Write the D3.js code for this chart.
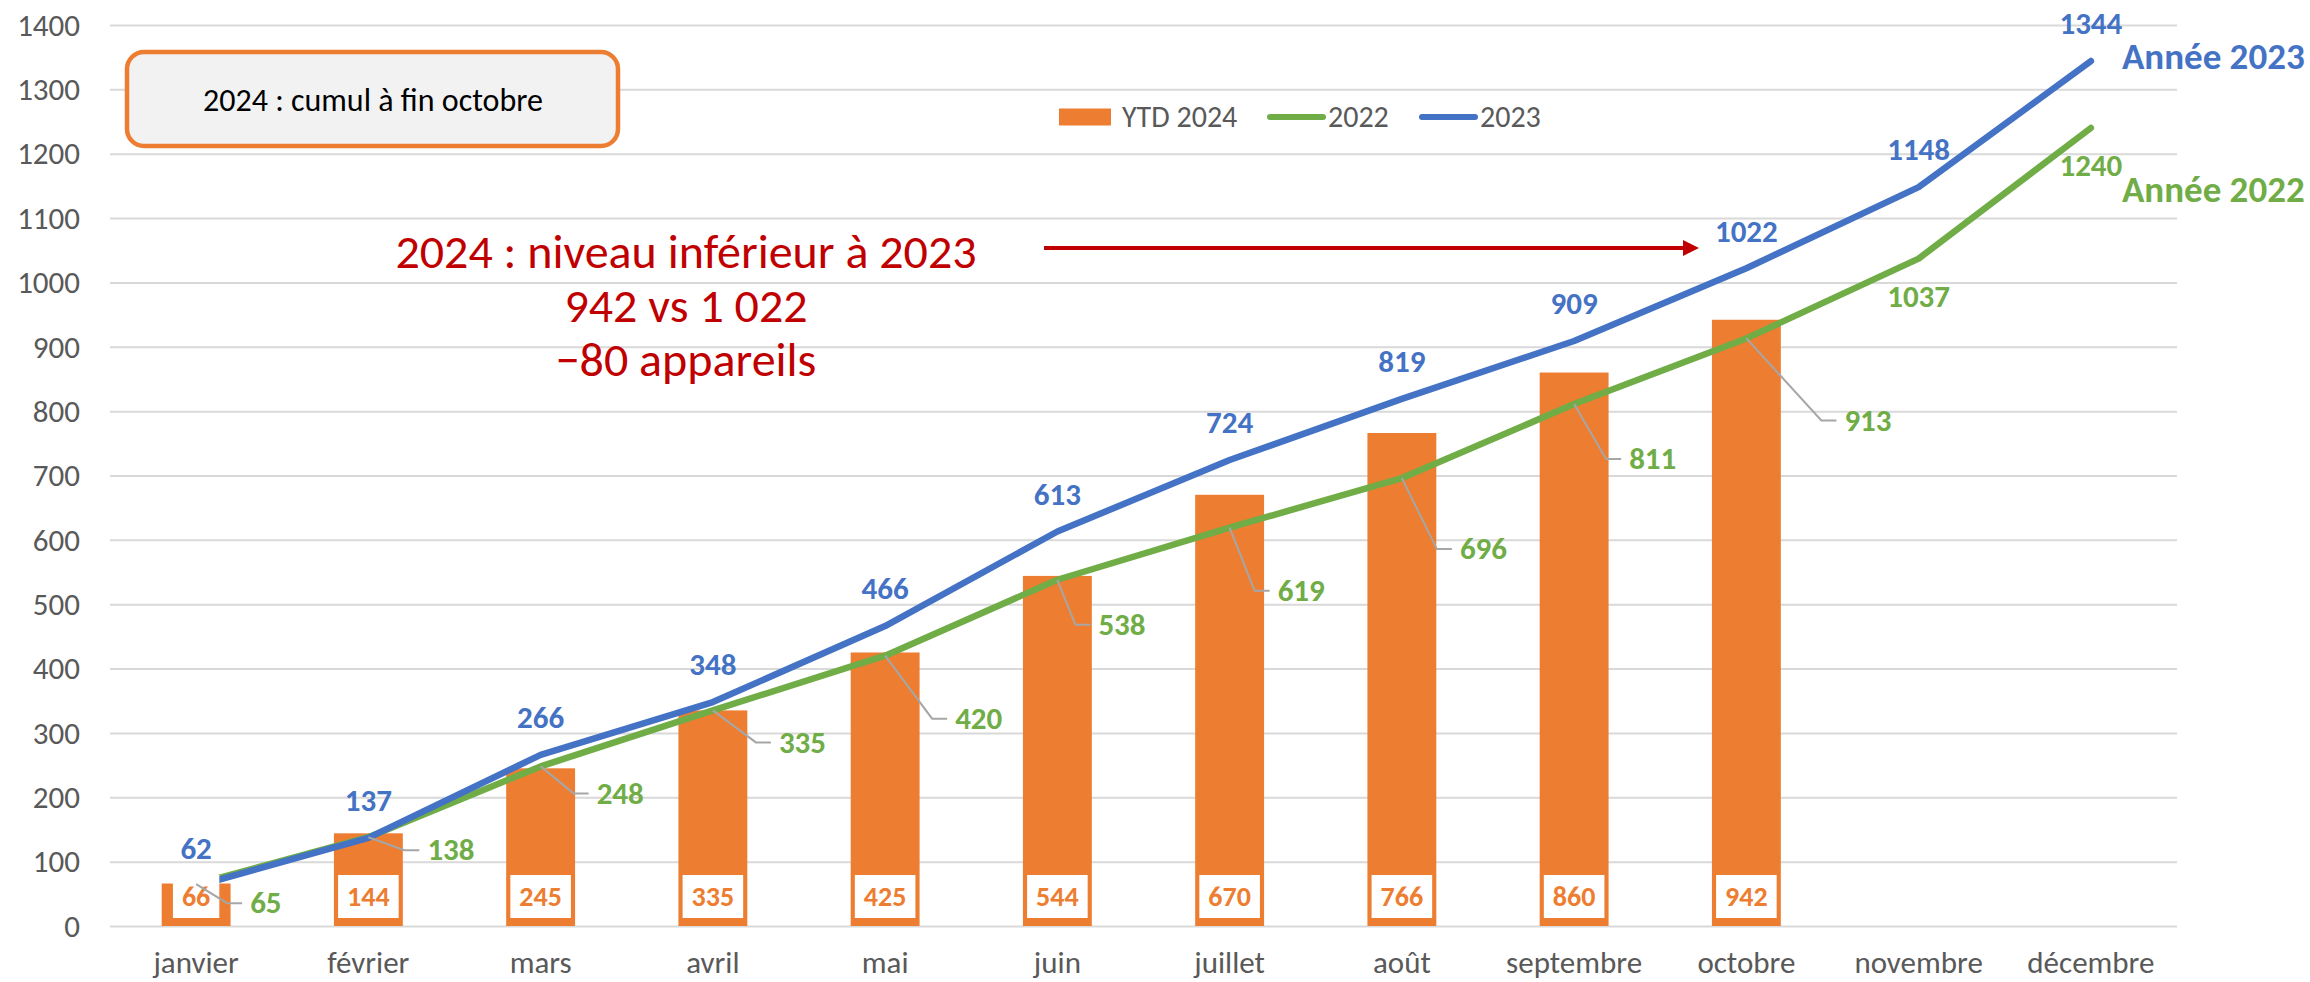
<!DOCTYPE html>
<meta charset="utf-8">
<style>
body { margin: 0; background: #fff; }
text { font-family: Carlito, Calibri, "Liberation Sans Narrow", "Open Sans", sans-serif; }
.axis path { display: none; }
.axis--y line { stroke: #d9d9d9; stroke-width: 2; }
.axis text { fill: #595959; font-size: 31px; }
</style>
<svg width="2310" height="982"></svg>
<script src="https://d3js.org/d3.v7.min.js"></script>
<script>

var months = ["janvier", "février", "mars", "avril", "mai", "juin", "juillet", "août", "septembre", "octobre", "novembre", "décembre"];
var ytd2024 = [66, 144, 245, 335, 425, 544, 670, 766, 860, 942];
var serie2022 = [65, 138, 248, 335, 420, 538, 619, 696, 811, 913, 1037, 1240];
var serie2023 = [62, 137, 266, 348, 466, 613, 724, 819, 909, 1022, 1148, 1344];
var yTicks = [0, 100, 200, 300, 400, 500, 600, 700, 800, 900, 1000, 1100, 1200, 1300, 1400];

// where excel put the 2022 labels (left edge / centre offset from the point)
var labelPos2022 = [[54, 19], [59, 13], [56, 27], [66, 32], [70, 63], [41, 45], [48, 63], [58, 71], [55, 55], [98, 82], [0, 38], [0, 38]];

var orange = "#ED7D31", green = "#70AD47", blue = "#4472C4", red = "#C00000";

var svg = d3.select("svg"),
    plotL = 110, plotR = 2177, plotT = 25, plotB = 926;

var x = d3.scaleBand()
    .domain(months)
    .range([plotL, plotR])
    .paddingInner(0.6)
    .paddingOuter(0.3);

var y = d3.scaleLinear()
    .domain([0, 1400])
    .range([plotB, plotT]);

function cx(i) { return x(months[i]) + x.bandwidth() / 2; }

// grid + y labels
svg.append("g")
    .attr("class", "axis axis--y")
    .attr("transform", "translate(" + plotL + ",0)")
    .call(d3.axisLeft(y).tickValues(yTicks).tickFormat(d3.format("d"))
        .tickSize(-(plotR - plotL)).tickPadding(30))
    .selectAll("text").attr("dy", "0.33em");

// x labels
svg.append("g")
    .attr("class", "axis axis--x")
    .attr("transform", "translate(0," + plotB + ")")
    .call(d3.axisBottom(x).tickSize(0).tickPadding(25))
    .selectAll("line").remove();

// bars
svg.append("g").selectAll("rect")
    .data(ytd2024)
    .enter().append("rect")
    .attr("x", function(d, i) { return x(months[i]); })
    .attr("y", function(d) { return y(d); })
    .attr("width", x.bandwidth())
    .attr("height", function(d) { return y(0) - y(d); })
    .attr("fill", orange);

// lines
var line = d3.line()
    .x(function(d, i) { return cx(i); })
    .y(function(d) { return y(d); });

[[serie2022, green], [serie2023, blue]].forEach(function(s) {
    svg.append("path")
        .datum(s[0])
        .attr("d", line)
        .attr("fill", "none")
        .attr("stroke", s[1])
        .attr("stroke-width", 6.5)
        .attr("stroke-linejoin", "round")
        .attr("stroke-linecap", "round");
});

// bar labels : white box at the base
var barLab = svg.append("g").selectAll("g")
    .data(ytd2024)
    .enter().append("g");

barLab.append("text")
    .attr("x", function(d, i) { return cx(i); })
    .attr("y", plotB - 29)
    .attr("dy", "0.33em")
    .attr("text-anchor", "middle")
    .attr("fill", orange)
    .style("font-size", "28px")
    .style("font-weight", "bold")
    .text(function(d) { return d; });

barLab.each(function(d, i) {
    var g = d3.select(this),
        w = g.select("text").node().getComputedTextLength() + 18;
    g.insert("rect", "text")
        .attr("x", cx(i) - w / 2)
        .attr("y", plotB - 51)
        .attr("width", w)
        .attr("height", 43)
        .attr("fill", "#fff");
});

// 2022 labels with leader lines
var lab22 = svg.append("g").selectAll("g")
    .data(serie2022)
    .enter().append("g");

lab22.each(function(d, i) {
    var g = d3.select(this),
        px = cx(i), py = y(d),
        o = labelPos2022[i],
        ly = py + o[1];
    if (o[0] > 0) {
        var lx = px + o[0];
        g.append("path")
            .attr("d", "M" + px + "," + py + "L" + (lx - 23) + "," + ly + "L" + (lx - 8) + "," + ly)
            .attr("fill", "none")
            .attr("stroke", "#A6A6A6")
            .attr("stroke-width", 2);
        g.append("text")
            .attr("x", lx)
            .attr("y", ly)
            .attr("dy", "0.33em")
            .attr("text-anchor", "start")
            .attr("fill", green)
            .style("font-size", "31px")
            .style("font-weight", "bold")
            .text(d);
    } else {
        g.append("text")
            .attr("x", px)
            .attr("y", ly)
            .attr("dy", "0.33em")
            .attr("text-anchor", "middle")
            .attr("fill", green)
            .style("font-size", "31px")
            .style("font-weight", "bold")
            .text(d);
    }
});

// 2023 labels above
svg.append("g").selectAll("text")
    .data(serie2023)
    .enter().append("text")
    .attr("x", function(d, i) { return cx(i); })
    .attr("y", function(d) { return y(d) - 37; })
    .attr("dy", "0.33em")
    .attr("text-anchor", "middle")
    .attr("fill", blue)
    .style("font-size", "31px")
    .style("font-weight", "bold")
    .text(function(d) { return d; });

// series names at the end
var last = months.length - 1;
svg.append("text")
    .attr("x", cx(last) + 31)
    .attr("y", y(serie2023[last]) - 4)
    .attr("dy", "0.33em")
    .attr("fill", blue)
    .style("font-size", "37px")
    .style("font-weight", "bold")
    .text("Année 2023");

svg.append("text")
    .attr("x", cx(last) + 31)
    .attr("y", y(serie2022[last]) + 62)
    .attr("dy", "0.33em")
    .attr("fill", green)
    .style("font-size", "37px")
    .style("font-weight", "bold")
    .text("Année 2022");

// legend
var legend = svg.append("g").attr("transform", "translate(0,117)");
legend.append("rect")
    .attr("x", 1059).attr("y", -8.5).attr("width", 52).attr("height", 17)
    .attr("fill", orange);
legend.append("text").attr("x", 1122).attr("dy", "0.33em").text("YTD 2024");
legend.append("line")
    .attr("x1", 1270).attr("x2", 1323).attr("stroke", green)
    .attr("stroke-width", 6).attr("stroke-linecap", "round");
legend.append("text").attr("x", 1328).attr("dy", "0.33em").text("2022");
legend.append("line")
    .attr("x1", 1422).attr("x2", 1475).attr("stroke", blue)
    .attr("stroke-width", 6).attr("stroke-linecap", "round");
legend.append("text").attr("x", 1480).attr("dy", "0.33em").text("2023");
legend.selectAll("text").attr("fill", "#595959").style("font-size", "30px");

// box top left
svg.append("rect")
    .attr("x", 127).attr("y", 52).attr("width", 491).attr("height", 94)
    .attr("rx", 17)
    .attr("fill", "#F2F2F2")
    .attr("stroke", orange)
    .attr("stroke-width", 4.5);
svg.append("text")
    .attr("x", 373).attr("y", 100).attr("dy", "0.33em")
    .attr("text-anchor", "middle")
    .attr("fill", "#000")
    .style("font-size", "32px")
    .text("2024 : cumul à fin octobre");

// red comment + arrow
var note = ["2024 : niveau inférieur à 2023", "942 vs 1 022", "−80 appareils"];
svg.append("g").selectAll("text")
    .data(note)
    .enter().append("text")
    .attr("x", 686)
    .attr("y", function(d, i) { return 252 + i * 54; })
    .attr("dy", "0.33em")
    .attr("text-anchor", "middle")
    .attr("fill", red)
    .style("font-size", "48px")
    .text(function(d) { return d; });

svg.append("defs").append("marker")
    .attr("id", "head")
    .attr("viewBox", "0 0 16 16")
    .attr("refX", 2).attr("refY", 8)
    .attr("markerWidth", 16).attr("markerHeight", 16)
    .attr("markerUnits", "userSpaceOnUse")
    .attr("orient", "auto")
    .append("path")
    .attr("d", "M0,0L16,8L0,16Z")
    .attr("fill", red);

svg.append("line")
    .attr("x1", 1044).attr("y1", 248)
    .attr("x2", 1685).attr("y2", 248)
    .attr("stroke", red)
    .attr("stroke-width", 4)
    .attr("marker-end", "url(#head)");

</script>
